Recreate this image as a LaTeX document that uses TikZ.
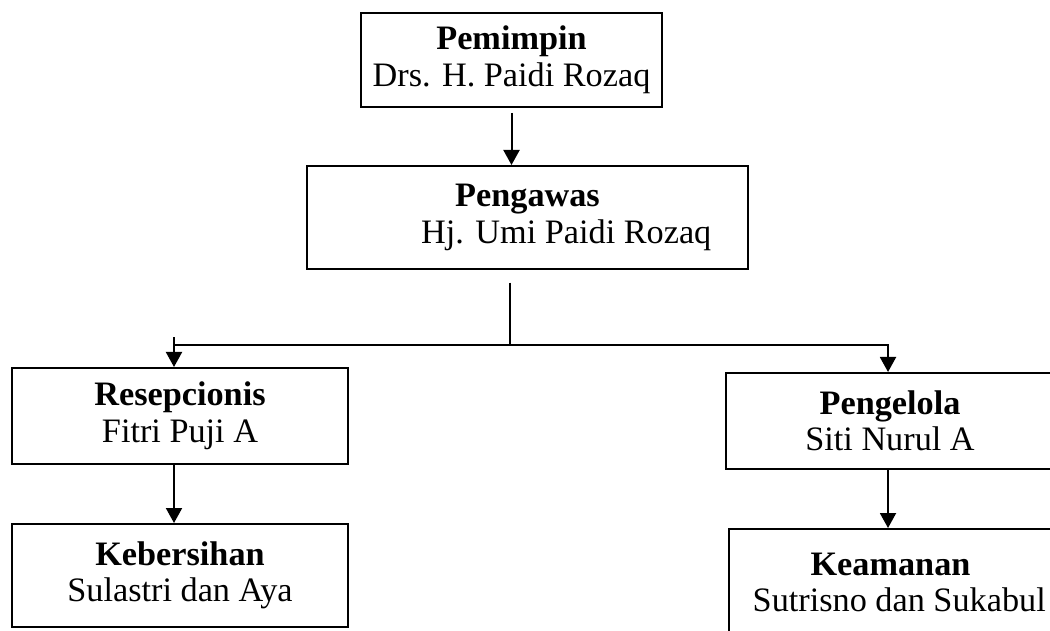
\documentclass[tikz,border=0pt]{standalone}
\usepackage{fontspec}
\setmainfont{Liberation Serif}
\usepackage{tikz}
\usetikzlibrary{arrows.meta}
\usetikzlibrary{calc}

\tikzset{
  box/.style={draw, line width=0.8pt, align=center, inner sep=0pt,
    font=\fontsize{13.7}{14.6}\selectfont},
  con/.style={line width=0.8pt},
  arr/.style={con, -{Triangle[length=6pt,width=6.4pt]}}
}

\begin{document}
\begin{tikzpicture}[x=0.4pt,y=-0.4pt]
\useasboundingbox (0,0) rectangle (1050,631);
\clip (0,0) rectangle (1050,631);
% boxes
\node[box, minimum width=120.4pt, minimum height=37.6pt] (pem) at (511.5,60)
   {\textbf{Pemimpin}\\Drs. H. Paidi Rozaq};
\node[box, minimum width=176.4pt, minimum height=41.2pt] (pgw) at (527.5,217.5)
   {\textbf{Pengawas}\\\hspace*{31pt}Hj. Umi Paidi Rozaq};
\node[box, minimum width=134.4pt, minimum height=38.4pt] (res) at (180,416)
   {\textbf{Resepcionis}\\Fitri Puji A};
\node[box, minimum width=134.4pt, minimum height=41.2pt] (keb) at (180,575.5)
   {\textbf{Kebersihan}\\Sulastri dan Aya};
\node[box, minimum width=131.2pt, minimum height=38.4pt] (pgl) at (890,421)
   {\textbf{Pengelola}\\Siti Nurul A};
\node[box, minimum width=129.2pt, minimum height=42.8pt] (kea) at (890.5,582.5)
   {\textbf{Keamanan}\\\hspace*{7pt}Sutrisno dan Sukabul};
% branch points
\coordinate (split) at (510,345);
\coordinate (lft) at (174,337);
\coordinate (rgt) at (888,345);
% connectors
\draw[arr, shorten <=2pt] (pem.south) -- (pem.south |- pgw.north);
\draw[con, shorten <=5pt] (pgw.south -| split) -- (split);
\draw[con] (split) -- (split -| lft);
\draw[arr] (lft) -- (lft |- res.north);
\draw[arr] (split) -- (rgt) -- (rgt |- pgl.north);
\draw[arr] (res.south -| lft) -- (lft |- keb.north);
\draw[arr] (pgl.south -| rgt) -- (rgt |- kea.north);
\end{tikzpicture}
\end{document}
